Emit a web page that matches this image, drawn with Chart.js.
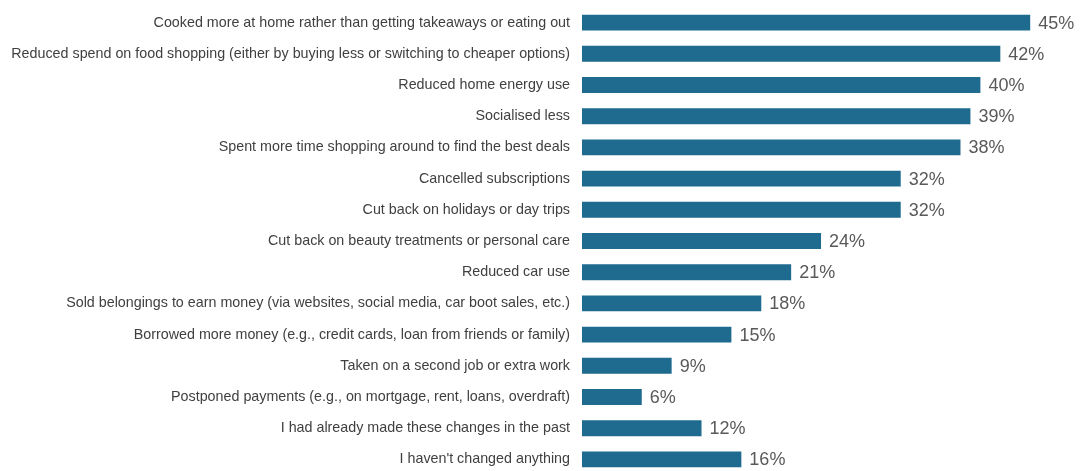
<!DOCTYPE html>
<html lang="en">
<head>
    <meta charset="UTF-8">
    <title>Changes made due to cost of living</title>
    <style>
        body {
            margin: 0;
            padding: 0;
            background-color: #fff;
            overflow: hidden;
        }
        .chart-box {
            position: relative;
            width: 1083px;
            height: 478px;
        }
    </style>
    <script src="https://cdn.jsdelivr.net/npm/chart.js"></script>
</head>
<body>

<div class="chart-box">
    <canvas id="changesChart"></canvas>
</div>

<script>
    // Categories and shares (%)
    const categories = [
        "Cooked more at home rather than getting takeaways or eating out",
        "Reduced spend on food shopping (either by buying less or switching to cheaper options)",
        "Reduced home energy use",
        "Socialised less",
        "Spent more time shopping around to find the best deals",
        "Cancelled subscriptions",
        "Cut back on holidays or day trips",
        "Cut back on beauty treatments or personal care",
        "Reduced car use",
        "Sold belongings to earn money (via websites, social media, car boot sales, etc.)",
        "Borrowed more money (e.g., credit cards, loan from friends or family)",
        "Taken on a second job or extra work",
        "Postponed payments (e.g., on mortgage, rent, loans, overdraft)",
        "I had already made these changes in the past",
        "I haven't changed anything"
    ];
    const shares = [45, 42, 40, 39, 38, 32, 32, 24, 21, 18, 15, 9, 6, 12, 16];

    // value labels at the end of each bar
    const valueLabels = {
        id: 'valueLabels',
        afterDatasetsDraw(chart) {
            const ctx = chart.ctx;
            const meta = chart.getDatasetMeta(0);
            ctx.save();
            ctx.font = '18px "Liberation Sans", Arial, sans-serif';
            ctx.fillStyle = '#595959';
            ctx.textAlign = 'left';
            ctx.textBaseline = 'middle';
            meta.data.forEach((bar, i) => {
                ctx.fillText(shares[i] + '%', bar.x + 8, bar.y + 1);
            });
            ctx.restore();
        }
    };

    const ctx = document.getElementById('changesChart').getContext('2d');
    new Chart(ctx, {
        type: 'bar',
        data: {
            labels: categories,
            datasets: [{
                data: shares,
                backgroundColor: '#1f6a8f',
                borderWidth: 0,
                categoryPercentage: 1,
                barPercentage: 0.51
            }]
        },
        options: {
            indexAxis: 'y',
            responsive: true,
            maintainAspectRatio: false,
            animation: false,
            layout: { padding: { top: 7, bottom: 3, right: 3, left: 0 } },
            plugins: {
                legend: { display: false },
                tooltip: { enabled: false }
            },
            scales: {
                x: {
                    display: false,
                    min: 0,
                    max: 50
                },
                y: {
                    grid: { display: false, drawTicks: false },
                    border: { display: false },
                    ticks: {
                        padding: 12,
                        color: '#404040',
                        font: { family: '"Liberation Sans", Arial, sans-serif', size: 14.3 }
                    },
                    afterFit(scale) {
                        scale.width = 582;
                        scale.paddingTop = 0;
                        scale.paddingBottom = 0;
                    }
                }
            }
        },
        plugins: [valueLabels]
    });
</script>

</body>
</html>
